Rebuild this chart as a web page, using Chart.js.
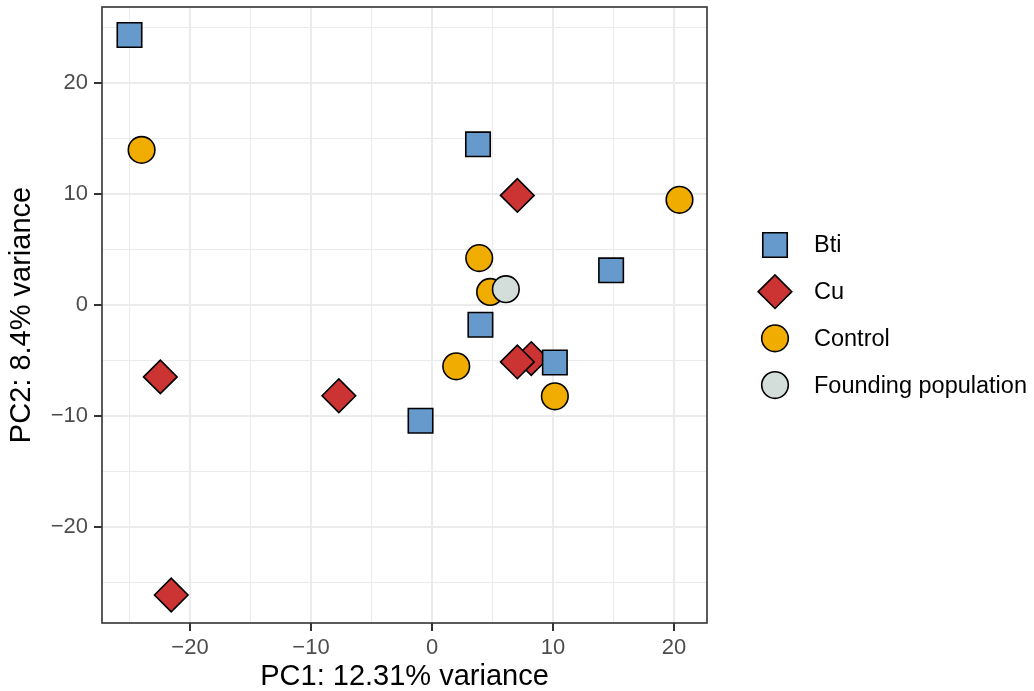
<!DOCTYPE html>
<html>
<head>
<meta charset="utf-8">
<script src="https://cdn.jsdelivr.net/npm/chart.js@4"></script>
<style>
  html, body { margin: 0; padding: 0; background: #ffffff; }
  #wrap { width: 1034px; height: 691px; }
</style>
</head>
<body>
<div id="wrap"><canvas id="pca" width="1034" height="691"></canvas></div>
<script>
// PCA sample scores, one pair of arrays per treatment group
const groupNames = ['Bti', 'Cu', 'Control', 'Founding population'];

const btiPC1 = [-25.0, 3.8, 14.8, 4.0, 10.15, -0.95];
const btiPC2 = [24.35, 14.5, 3.15, -1.75, -5.15, -10.4];

const cuPC1 = [-22.45, -7.7, -21.55, 7.05, 8.2, 7.05];
const cuPC2 = [-6.45, -8.15, -26.1, 9.9, -4.8, -5.1];

const controlPC1 = [-24.0, 20.45, 3.9, 4.8, 2.0, 10.15];
const controlPC2 = [14.0, 9.5, 4.25, 1.2, -5.5, -8.2];

const foundingPC1 = [6.1];
const foundingPC2 = [1.45];

const xTitle = 'PC1: 12.31% variance';
const yTitle = 'PC2: 8.4% variance';

const toPoints = (xs, ys) => xs.map((x, i) => ({ x: x, y: ys[i] }));

// axis limits padded by 5% of the data span on each side
function paddedRange(values) {
  const lo = Math.min(...values), hi = Math.max(...values);
  const pad = (hi - lo) * 0.05;
  return [lo - pad, hi + pad];
}
const allX = [].concat(btiPC1, cuPC1, controlPC1, foundingPC1);
const allY = [].concat(btiPC2, cuPC2, controlPC2, foundingPC2);
const [xMin, xMax] = paddedRange(allX);
const [yMin, yMax] = paddedRange(allY);

const FONT = "'Liberation Sans', Arial, Helvetica, sans-serif";
const isMajor = v => Math.abs(v % 10) < 1e-9;
const fmt = v => (v < 0 ? '\u2212' + Math.abs(v) : String(v));

// grid positions every 5 units (labelled every 10)
function fiveStepTicks(scale) {
  const ticks = [];
  for (let v = Math.ceil(scale.min / 5) * 5; v <= scale.max; v += 5) ticks.push({ value: v });
  scale.ticks = ticks;
}

const series = [
  { label: groupNames[0], data: toPoints(btiPC1, btiPC2), pointStyle: 'rect',
    pointRadius: 17.3, backgroundColor: '#6699CC', order: 1 },
  { label: groupNames[1], data: toPoints(cuPC1, cuPC2), pointStyle: 'rectRot',
    pointRadius: 16.8, backgroundColor: '#CC3333', order: 2 },
  { label: groupNames[2], data: toPoints(controlPC1, controlPC2), pointStyle: 'circle',
    pointRadius: 13.3, backgroundColor: '#F0AD00', order: 3 },
  { label: groupNames[3], data: toPoints(foundingPC1, foundingPC2), pointStyle: 'circle',
    pointRadius: 13.3, backgroundColor: '#D3DDDA', order: 0 }
].map(s => Object.assign(s, {
  borderColor: '#000000',
  borderWidth: 1.6,
  pointHoverRadius: s.pointRadius
}));

// panel frame around the plotting area
const panelBorder = {
  id: 'panelBorder',
  afterDraw(chart) {
    const a = chart.chartArea, ctx = chart.ctx;
    ctx.save();
    ctx.strokeStyle = '#333333';
    ctx.lineWidth = 1.6;
    ctx.strokeRect(a.left, a.top, a.right - a.left, a.bottom - a.top);
    ctx.restore();
  }
};

// legend to the right of the panel, symbols drawn with each dataset's own style
const sideLegend = {
  id: 'sideLegend',
  afterDraw(chart) {
    const a = chart.chartArea, ctx = chart.ctx;
    const rowGap = 46.7;
    const cy = (a.top + a.bottom) / 2;
    const symX = a.right + 68;
    const textX = a.right + 107;
    ctx.save();
    chart.data.datasets.forEach((ds, i) => {
      const y = cy + (i - 1.5) * rowGap;
      ctx.fillStyle = ds.backgroundColor;
      ctx.strokeStyle = ds.borderColor;
      ctx.lineWidth = ds.borderWidth;
      Chart.helpers.drawPoint(ctx, { pointStyle: ds.pointStyle, radius: ds.pointRadius, rotation: 0, borderWidth: ds.borderWidth }, symX, y);
      ctx.fillStyle = '#000000';
      ctx.font = '23.5px ' + FONT;
      ctx.textAlign = 'left';
      ctx.textBaseline = 'middle';
      ctx.fillText(ds.label, textX, y + 1);
    });
    ctx.restore();
  }
};

const gridCommon = {
  color: '#EBEBEB',
  lineWidth: c => (c.tick && isMajor(c.tick.value) ? 2 : 1),
  drawTicks: true,
  tickLength: 8,
  tickWidth: 2,
  tickColor: c => (c.tick && isMajor(c.tick.value) ? '#333333' : 'rgba(0,0,0,0)')
};

new Chart(document.getElementById('pca'), {
  type: 'scatter',
  data: { datasets: series },
  options: {
    responsive: false,
    animation: false,
    devicePixelRatio: 1,
    layout: { autoPadding: false, padding: { left: 0, top: 7, right: 327, bottom: 0 } },
    plugins: { legend: { display: false }, tooltip: { enabled: false } },
    scales: {
      x: {
        type: 'linear',
        min: xMin,
        max: xMax,
        afterBuildTicks: fiveStepTicks,
        afterFit: s => { s.height = 68; s.paddingLeft = 0; s.paddingRight = 0; },
        border: { display: false },
        grid: gridCommon,
        ticks: {
          autoSkip: false,
          maxRotation: 0,
          padding: 4,
          color: '#4D4D4D',
          font: { family: FONT, size: 22 },
          callback: v => (isMajor(v) ? fmt(v) : '')
        },
        title: {
          display: true,
          text: xTitle,
          color: '#000000',
          font: { family: FONT, size: 29 },
          padding: { top: 0, bottom: -3 }
        }
      },
      y: {
        type: 'linear',
        min: yMin,
        max: yMax,
        afterBuildTicks: fiveStepTicks,
        afterFit: s => { s.width = 102; s.paddingTop = 0; s.paddingBottom = 0; },
        border: { display: false },
        grid: gridCommon,
        ticks: {
          autoSkip: false,
          padding: 6,
          color: '#4D4D4D',
          font: { family: FONT, size: 22 },
          callback: v => (isMajor(v) ? fmt(v) : '')
        },
        title: {
          display: true,
          text: yTitle,
          color: '#000000',
          font: { family: FONT, size: 29 },
          padding: { top: 5, bottom: 0 }
        }
      }
    }
  },
  plugins: [panelBorder, sideLegend]
});
</script>
</body>
</html>
